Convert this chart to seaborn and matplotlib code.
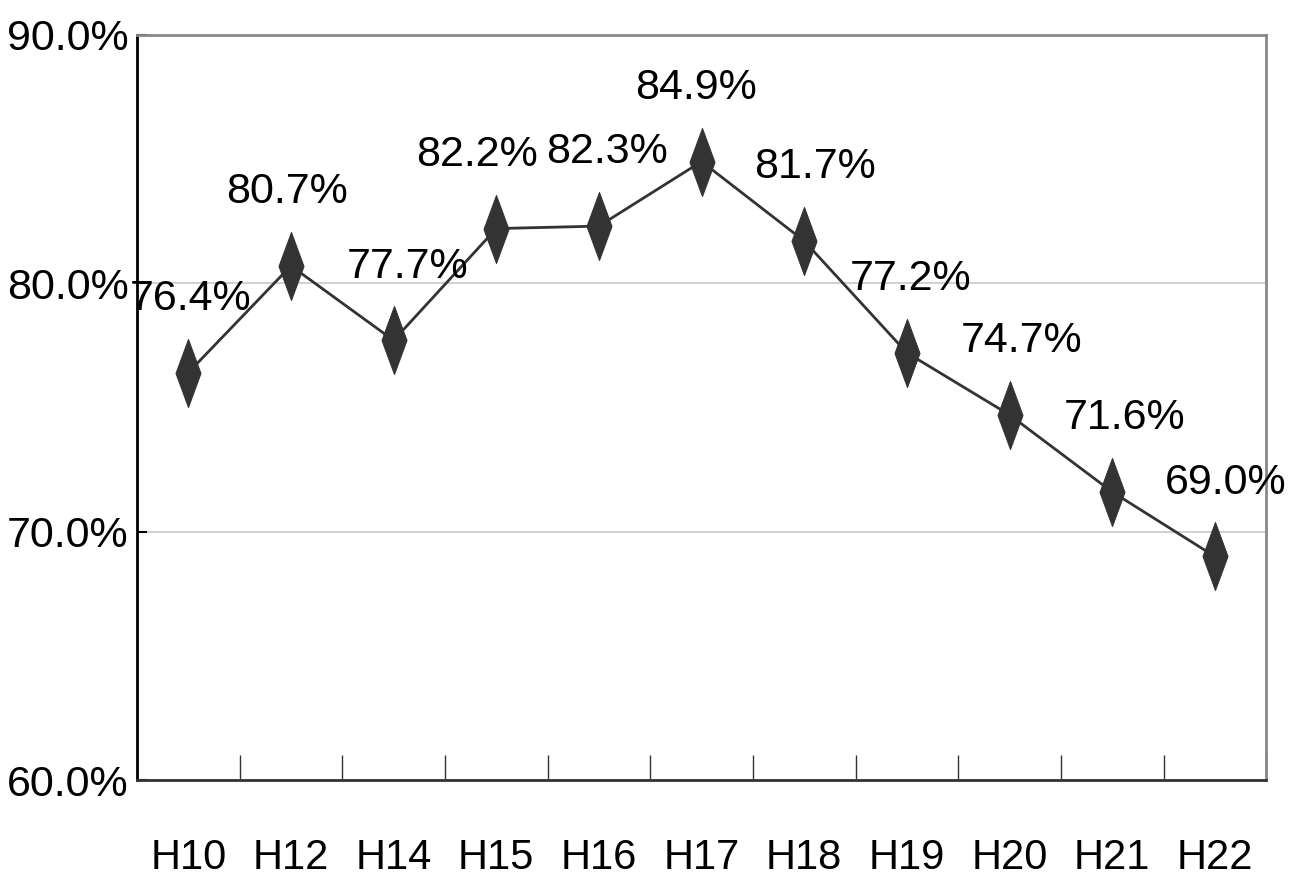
import matplotlib
matplotlib.use("Agg")
import matplotlib.pyplot as plt
from matplotlib.path import Path
from matplotlib.ticker import FixedLocator
import seaborn as sns
import pandas as pd

# data
years = ['H10', 'H12', 'H14', 'H15', 'H16', 'H17', 'H18', 'H19', 'H20', 'H21', 'H22']
rates = [76.4, 80.7, 77.7, 82.2, 82.3, 84.9, 81.7, 77.2, 74.7, 71.6, 69.0]
y_ticks = [60, 70, 80, 90]

# small horizontal nudges for the value labels (points), to keep them apart
label_dx = [2, -3, 10, -14, 6, -4, 8, 3, 9, 9, 8]

df = pd.DataFrame({'year': years, 'rate': rates})

sns.set_theme(style='white')
plt.rcParams['font.family'] = ['Liberation Sans', 'DejaVu Sans']

fig = plt.figure(figsize=(12.92, 8.93), dpi=100)
ax = fig.add_axes([0.106, 0.1265, 0.874, 0.8345])

# tall thin diamond marker
diamond = Path([(0, 34), (12.5, 0), (0, -34), (-12.5, 0), (0, 34)],
               [Path.MOVETO, Path.LINETO, Path.LINETO, Path.LINETO, Path.CLOSEPOLY])

sns.lineplot(data=df, x='year', y='rate', sort=False, ax=ax, color='#333333',
             linewidth=2, marker=diamond, markersize=49,
             markerfacecolor='#333333', markeredgecolor='#333333', zorder=3)

ax.set_xlim(-0.5, len(years) - 0.5)
ax.set_ylim(60, 90)
ax.set_xlabel('')
ax.set_ylabel('')

# y axis
ax.set_yticks(y_ticks)
ax.set_yticklabels([f'{v:.1f}%' for v in y_ticks], fontsize=31, color='black')
ax.yaxis.grid(True, color='#c8c8c8', linewidth=1.2)
ax.set_axisbelow(True)
ax.tick_params(axis='y', left=True, direction='in', length=7, width=1.5,
               color='black', pad=6)

# x axis: labels at categories, tick marks between them
ax.set_xticks(range(len(years)))
ax.set_xticklabels(years, fontsize=30, color='black')
ax.tick_params(axis='x', which='major', bottom=True, length=0, pad=42)
ax.xaxis.set_minor_locator(FixedLocator([i + 0.5 for i in range(len(years))]))
ax.tick_params(axis='x', which='minor', bottom=True, direction='in', length=18,
               width=1, color='#333333')

for side in ['top', 'right']:
    ax.spines[side].set_color('#888888')
    ax.spines[side].set_linewidth(2)
ax.spines['left'].set_color('black')
ax.spines['left'].set_linewidth(2)
ax.spines['bottom'].set_color('#333333')
ax.spines['bottom'].set_linewidth(2)

# value labels above each point
for i, (v, dx) in enumerate(zip(rates, label_dx)):
    ax.annotate(f'{v:.1f}%', (i, v), xytext=(dx, 53), textcoords='offset points',
                ha='center', va='center', fontsize=31, color='black',
                annotation_clip=False, zorder=4)

fig.savefig('out.png', dpi=100)
